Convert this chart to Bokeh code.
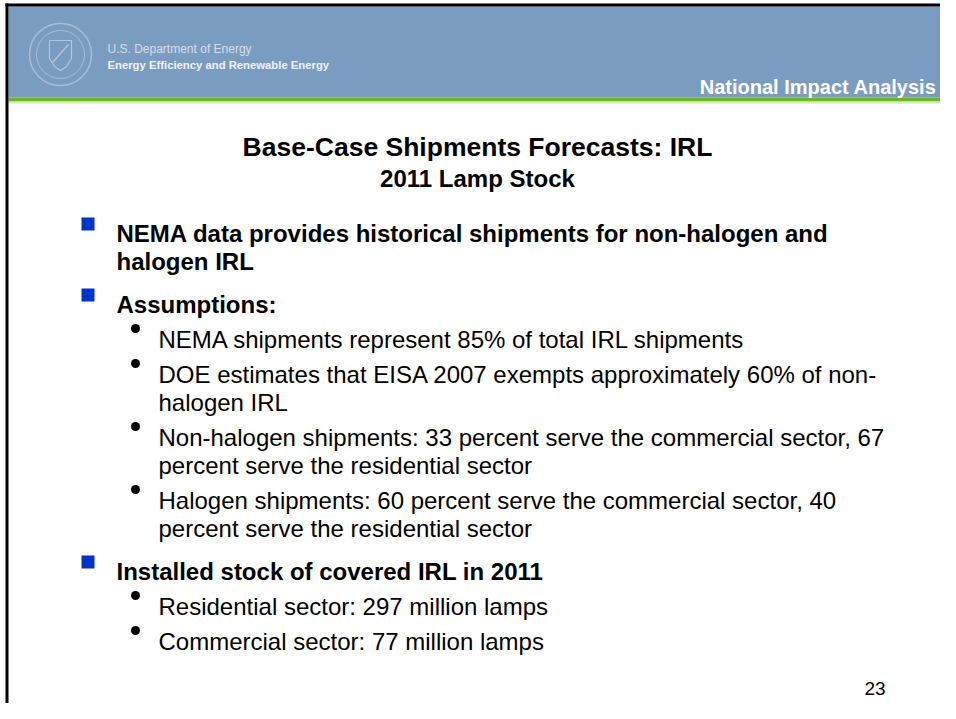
from bokeh.plotting import figure
from bokeh.embed import file_html
from bokeh.resources import INLINE
from bokeh.core.properties import value

# ---- slide content (text data) ----
agency_lines = ["U.S. Department of Energy", "Energy Efficiency and Renewable Energy"]
section_label = "National Impact Analysis"
title_main = "Base-Case Shipments Forecasts: IRL"
title_sub = "2011 Lamp Stock"
main_bullets = [
    ["NEMA data provides historical shipments for non-halogen and", "halogen IRL"],
    ["Assumptions:"],
    ["Installed stock of covered IRL in 2011"],
]
sub_bullets = [
    [],
    [
        ["NEMA shipments represent 85% of total IRL shipments"],
        ["DOE estimates that EISA 2007 exempts approximately 60% of non-", "halogen IRL"],
        ["Non-halogen shipments: 33 percent serve the commercial sector, 67", "percent serve the residential sector"],
        ["Halogen shipments: 60 percent serve the commercial sector, 40", "percent serve the residential sector"],
    ],
    [
        ["Residential sector: 297 million lamps"],
        ["Commercial sector: 77 million lamps"],
    ],
]
page_number = "23"

FONT = value("Liberation Sans")

p = figure(width=940, height=703, x_range=(0, 940), y_range=(703, 0),
           output_backend="svg", toolbar_location=None, min_border=0,
           x_axis_location=None, y_axis_location=None)
p.grid.visible = False
p.outline_line_color = None
p.background_fill_color = "white"
p.border_fill_color = "white"

# header band
p.quad(left=[8], right=[940], top=[6], bottom=[97], fill_color="#7b9cc1", line_color=None)
p.quad(left=[8], right=[940], top=[97], bottom=[101], fill_color="#69b52e", line_color=None)
p.quad(left=[8], right=[940], top=[101], bottom=[103], fill_color="#cfe8b4", line_color=None)
# frame
p.quad(left=[5], right=[940], top=[3], bottom=[6], fill_color="black", line_color=None)
p.quad(left=[5], right=[8], top=[3], bottom=[703], fill_color="black", line_color=None)

# seal
p.circle(x=[60], y=[54], radius=31, fill_alpha=0, line_color="#a8bdd7", line_width=1.5)
p.circle(x=[60], y=[54], radius=24, fill_alpha=0, line_color="#a8bdd7", line_width=1)
p.patch(x=[49, 71, 71, 66, 60, 54, 49], y=[40, 40, 58, 66, 70, 66, 58],
        fill_alpha=0, line_color="#b4c6dc", line_width=1.2)
p.line(x=[52, 68], y=[62, 44], line_color="#b4c6dc", line_width=1.2)

# agency text
p.text(x=[107], y=[48], text=[agency_lines[0]], text_font=FONT, text_font_size="12px",
       text_color="#d4deea", text_baseline="alphabetic")
p.text(x=[107], y=[64], text=[agency_lines[1]], text_font=FONT, text_font_size="11.3px",
       text_font_style="bold", text_color="#eef2f7", text_baseline="alphabetic")
p.text(x=[936], y=[86], text=[section_label], text_font=FONT, text_font_size="20px",
       text_font_style="bold", text_color="white", text_align="right", text_baseline="alphabetic")

# titles
p.text(x=[477], y=[146], text=[title_main], text_font=FONT, text_font_size="26.5px",
       text_font_style="bold", text_color="black", text_align="center", text_baseline="alphabetic")
p.text(x=[477], y=[178], text=[title_sub], text_font=FONT, text_font_size="24px",
       text_font_style="bold", text_color="black", text_align="center", text_baseline="alphabetic")

# bullets
mx, my, mt = [], [], []
sqx, sqy = [], []
sx, sy, st = [], [], []
dx, dy = [], []
y = 233
first = True
for i, lines in enumerate(main_bullets):
    if not first:
        y += 43
    first = False
    sqx.append(87.5); sqy.append(y - 9.5)
    for j, line in enumerate(lines):
        if j > 0:
            y += 28
        mx.append(116); my.append(y); mt.append(line)
    for sub in sub_bullets[i]:
        y += 35
        dx.append(135); dy.append(y - 11)
        for j, line in enumerate(sub):
            if j > 0:
                y += 28
            sx.append(158); sy.append(y); st.append(line)

p.rect(x=sqx, y=sqy, width=13, height=13, fill_color="#0033cc", line_color=None)
p.text(x=mx, y=my, text=mt, text_font=FONT, text_font_size="24px", text_font_style="bold",
       text_color="black", text_baseline="alphabetic")
p.scatter(x=dx, y=dy, size=9, marker="circle", fill_color="black", line_color=None)
p.text(x=sx, y=sy, text=st, text_font=FONT, text_font_size="24px",
       text_color="black", text_baseline="alphabetic")

p.text(x=[864], y=[688], text=[page_number], text_font=FONT, text_font_size="19px",
       text_color="black", text_baseline="alphabetic")

open("out.html", "w").write(file_html(p, INLINE))
